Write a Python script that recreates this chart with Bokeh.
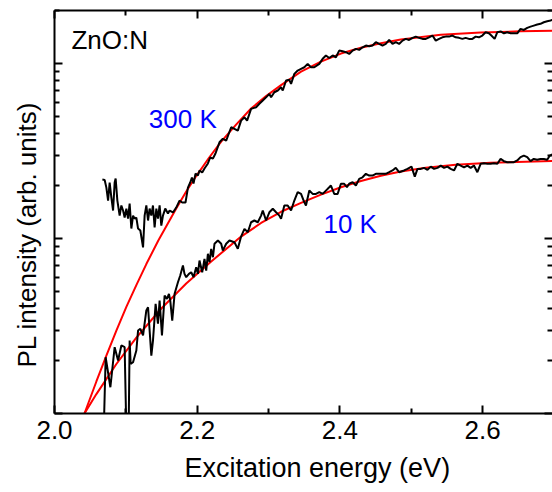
import numpy as np
from bokeh.plotting import figure
from bokeh.models import Range1d, LinearAxis, LogAxis, FixedTicker, Label, Title, CustomJSTickFormatter
from bokeh.embed import file_html
from bokeh.resources import INLINE

# ---- data ----
energy_300k = [2.0671, 2.0703, 2.0727, 2.0751, 2.0773, 2.0797, 2.0821, 2.0843, 2.0857, 2.0881,
               2.0913, 2.0937, 2.0961, 2.0983, 2.1007, 2.1031, 2.1053, 2.1077, 2.1101, 2.1123,
               2.1147, 2.1171, 2.1203, 2.1241, 2.1263, 2.1287, 2.1311, 2.1333, 2.1357, 2.1380,
               2.1403, 2.1427, 2.1450, 2.1473, 2.1497, 2.1520, 2.1552, 2.1590, 2.1613, 2.1660,
               2.1706, 2.1752, 2.1790, 2.1836, 2.1870, 2.1902, 2.1926, 2.1948, 2.1976, 2.2010,
               2.2032, 2.2070, 2.2102, 2.2150, 2.2182, 2.2220, 2.2256, 2.2312, 2.2359, 2.2406,
               2.2476, 2.2522, 2.2569, 2.2615, 2.2662, 2.2699, 2.2755, 2.2825, 2.2871, 2.2919,
               2.2965, 2.3011, 2.3035, 2.3081, 2.3129, 2.3175, 2.3199, 2.3245, 2.3291, 2.3315,
               2.3361, 2.3408, 2.3455, 2.3501, 2.3548, 2.3594, 2.3641, 2.3711, 2.3758, 2.3804,
               2.3850, 2.3898, 2.3944, 2.3990, 2.4038, 2.4084, 2.4130, 2.4178, 2.4224, 2.4270,
               2.4317, 2.4364, 2.4410, 2.4457, 2.4503, 2.4550, 2.4597, 2.4643, 2.4690, 2.4737,
               2.4783, 2.4829, 2.4877, 2.4923, 2.4969, 2.5017, 2.5063, 2.5109, 2.5157, 2.5203,
               2.5249, 2.5297, 2.5343, 2.5389, 2.5436, 2.5483, 2.5529, 2.5576, 2.5622, 2.5669,
               2.5716, 2.5762, 2.5808, 2.5856, 2.5902, 2.5948, 2.5996, 2.6042, 2.6088, 2.6122,
               2.6168, 2.6206, 2.6252, 2.6298, 2.6345, 2.6392, 2.6438, 2.6485, 2.6531, 2.6578,
               2.6625, 2.6671, 2.6717, 2.6765, 2.6811, 2.6857, 2.6905, 2.6951, 2.6979]
log10_pl_300k = [1.337, 1.335, 1.291, 1.217, 1.320, 1.234, 1.160, 1.320, 1.343, 1.217,
                 1.131, 1.189, 1.160, 1.120, 1.171, 1.114, 1.200, 1.057, 1.131, 1.114,
                 1.120, 1.057, 1.046, 0.949, 1.131, 1.189, 1.103, 1.171, 1.131, 1.189,
                 1.063, 1.171, 1.114, 1.189, 1.074, 1.131, 1.171, 1.143, 1.160, 1.149,
                 1.177, 1.217, 1.206, 1.206, 1.291, 1.320, 1.349, 1.314, 1.371, 1.360,
                 1.389, 1.377, 1.400, 1.429, 1.463, 1.457, 1.486, 1.550, 1.570, 1.560,
                 1.636, 1.627, 1.617, 1.674, 1.693, 1.674, 1.741, 1.750, 1.770, 1.789,
                 1.807, 1.827, 1.807, 1.836, 1.846, 1.865, 1.846, 1.903, 1.907, 1.884,
                 1.941, 1.960, 1.970, 1.979, 1.998, 1.979, 1.979, 1.998, 2.027, 2.046,
                 2.032, 2.046, 2.036, 2.074, 2.070, 2.065, 2.055, 2.074, 2.084, 2.078,
                 2.093, 2.103, 2.099, 2.103, 2.122, 2.112, 2.103, 2.112, 2.135, 2.112,
                 2.122, 2.112, 2.131, 2.141, 2.135, 2.147, 2.154, 2.147, 2.141, 2.141,
                 2.150, 2.160, 2.131, 2.141, 2.150, 2.154, 2.154, 2.160, 2.150, 2.147,
                 2.141, 2.147, 2.141, 2.141, 2.154, 2.150, 2.160, 2.179, 2.173, 2.160,
                 2.141, 2.179, 2.184, 2.173, 2.179, 2.173, 2.173, 2.173, 2.198, 2.192,
                 2.204, 2.211, 2.217, 2.223, 2.227, 2.236, 2.242, 2.246, 2.250]

energy_10k = [2.0690, 2.0717, 2.0783, 2.0843, 2.0891, 2.0937, 2.0983, 2.1007, 2.1039, 2.1053,
              2.1067, 2.1101, 2.1147, 2.1171, 2.1203, 2.1241, 2.1287, 2.1311, 2.1357, 2.1380,
              2.1417, 2.1450, 2.1473, 2.1506, 2.1543, 2.1576, 2.1604, 2.1622, 2.1650, 2.1683,
              2.1730, 2.1762, 2.1800, 2.1822, 2.1846, 2.1884, 2.1916, 2.1948, 2.1986, 2.2010,
              2.2032, 2.2070, 2.2102, 2.2126, 2.2150, 2.2172, 2.2196, 2.2220, 2.2242, 2.2290,
              2.2336, 2.2359, 2.2406, 2.2452, 2.2522, 2.2569, 2.2615, 2.2662, 2.2709, 2.2755,
              2.2801, 2.2849, 2.2895, 2.2919, 2.2965, 2.3011, 2.3059, 2.3105, 2.3151, 2.3175,
              2.3221, 2.3268, 2.3315, 2.3361, 2.3408, 2.3455, 2.3501, 2.3524, 2.3571, 2.3618,
              2.3664, 2.3711, 2.3758, 2.3804, 2.3850, 2.3874, 2.3920, 2.3968, 2.4014, 2.4060,
              2.4098, 2.4130, 2.4178, 2.4224, 2.4270, 2.4317, 2.4364, 2.4410, 2.4457, 2.4503,
              2.4550, 2.4597, 2.4643, 2.4690, 2.4737, 2.4783, 2.4829, 2.4899, 2.4947, 2.5003,
              2.5049, 2.5087, 2.5133, 2.5179, 2.5227, 2.5273, 2.5319, 2.5367, 2.5413, 2.5459,
              2.5506, 2.5552, 2.5599, 2.5646, 2.5692, 2.5739, 2.5786, 2.5832, 2.5878, 2.5926,
              2.5972, 2.6018, 2.6066, 2.6112, 2.6158, 2.6206, 2.6252, 2.6298, 2.6345, 2.6392,
              2.6438, 2.6485, 2.6531, 2.6578, 2.6625, 2.6671, 2.6717, 2.6765, 2.6811, 2.6857,
              2.6905, 2.6942, 2.6975]
log10_pl_10k = [-0.1, 0.322, 0.150, 0.379, 0.303, 0.389, 0.379, -0.1, -0.1, 0.417,
                0.284, 0.293, 0.360, 0.474, 0.484, 0.446, 0.589, 0.607, 0.331, 0.417,
                0.627, 0.513, 0.646, 0.446, 0.674, 0.655, 0.684, 0.646, 0.531, 0.684,
                0.750, 0.789, 0.846, 0.798, 0.779, 0.798, 0.807, 0.779, 0.836, 0.798,
                0.874, 0.807, 0.884, 0.817, 0.913, 0.865, 0.941, 0.893, 0.970, 0.989,
                0.970, 0.931, 0.970, 0.989, 0.979, 0.941, 1.011, 1.055, 1.036, 1.093,
                1.103, 1.093, 1.131, 1.160, 1.103, 1.150, 1.170, 1.150, 1.131, 1.113,
                1.189, 1.189, 1.160, 1.217, 1.265, 1.255, 1.207, 1.189, 1.274, 1.255,
                1.255, 1.265, 1.255, 1.274, 1.293, 1.303, 1.255, 1.255, 1.313, 1.313,
                1.293, 1.313, 1.322, 1.303, 1.341, 1.350, 1.370, 1.360, 1.360, 1.370,
                1.370, 1.370, 1.370, 1.379, 1.389, 1.404, 1.379, 1.389, 1.398, 1.411,
                1.354, 1.398, 1.398, 1.404, 1.393, 1.411, 1.398, 1.404, 1.417, 1.404,
                1.411, 1.398, 1.389, 1.427, 1.417, 1.407, 1.417, 1.404, 1.417, 1.379,
                1.427, 1.430, 1.427, 1.427, 1.430, 1.427, 1.455, 1.442, 1.436, 1.436,
                1.436, 1.446, 1.465, 1.474, 1.465, 1.442, 1.455, 1.450, 1.455, 1.455,
                1.450, 1.474, 1.480]

fit_energy_300k = [2.0376, 2.0420, 2.0587, 2.0727, 2.0867, 2.1007, 2.1147, 2.1287, 2.1455, 2.1706,
                   2.1846, 2.1986, 2.2168, 2.2336, 2.2545, 2.2755, 2.2965, 2.3175, 2.3455, 2.3734,
                   2.4014, 2.4294, 2.4573, 2.4853, 2.5413, 2.5972, 2.6531, 2.6979]
fit_log10_300k = [-0.05, 0.0, 0.183, 0.331, 0.474, 0.609, 0.734, 0.854, 0.989, 1.171,
                  1.269, 1.357, 1.463, 1.554, 1.651, 1.743, 1.814, 1.877, 1.954, 2.011,
                  2.057, 2.090, 2.116, 2.137, 2.164, 2.177, 2.184, 2.187]

fit_energy_10k = [2.0348, 2.0420, 2.0587, 2.0867, 2.1147, 2.1497, 2.1846, 2.2196, 2.2615, 2.2895,
                  2.3175, 2.3455, 2.3734, 2.4014, 2.4294, 2.4573, 2.4853, 2.5203, 2.5622, 2.6112,
                  2.6979]
fit_log10_10k = [-0.05, 0.0, 0.111, 0.283, 0.434, 0.600, 0.743, 0.869, 1.011, 1.089,
                 1.153, 1.204, 1.251, 1.293, 1.329, 1.359, 1.383, 1.404, 1.421, 1.433,
                 1.443]

x_major = [2.0, 2.2, 2.4, 2.6]
x_minor = [2.1, 2.3, 2.5, 2.7]
x_tick_labels = {2.0: "2.0", 2.2: "2.2", 2.4: "2.4", 2.6: "2.6"}
y_major = [1, 10, 100]
y_minor = [2, 3, 4, 5, 6, 7, 8, 9, 20, 30, 40, 50, 60, 70, 80, 90, 200]

FONT = "Liberation Sans"

p = figure(width=552, height=492, x_range=Range1d(2.0, 2.6979), y_range=Range1d(1, 201),
           y_axis_type="log", output_backend="svg", toolbar_location=None,
           min_border_left=53, min_border_right=0, min_border_top=10, min_border_bottom=79)
p.outline_line_color = None
p.xgrid.visible = False
p.ygrid.visible = False
p.background_fill_color = "white"
p.border_fill_color = "white"

# fits (red) then data (black)
p.line(fit_energy_300k, 10 ** np.array(fit_log10_300k), line_color="#ff0000", line_width=2)
p.line(fit_energy_10k, 10 ** np.array(fit_log10_10k), line_color="#ff0000", line_width=2)
p.line(energy_300k, 10 ** np.array(log10_pl_300k), line_color="black", line_width=2)
p.line(energy_10k, 10 ** np.array(log10_pl_10k), line_color="black", line_width=2)

blank = CustomJSTickFormatter(code="return ''")

def style(ax, labels):
    ax.axis_line_width = 2
    ax.axis_line_color = "black"
    ax.major_tick_in = 8
    ax.major_tick_out = 0
    ax.minor_tick_in = 5
    ax.minor_tick_out = 0
    ax.major_tick_line_width = 2
    ax.minor_tick_line_width = 2
    ax.major_tick_line_color = "black"
    ax.minor_tick_line_color = "black"
    if labels:
        ax.major_label_text_font = FONT
        ax.major_label_text_font_size = "26px"
        ax.major_label_text_color = "black"
        ax.major_label_standoff = 7
    else:
        ax.formatter = blank
        ax.major_label_standoff = 0

xb = p.xaxis[0]
xb.ticker = FixedTicker(ticks=x_major, minor_ticks=x_minor)
xb.major_label_overrides = x_tick_labels
style(xb, True)

yl = p.yaxis[0]
yl.ticker = FixedTicker(ticks=y_major, minor_ticks=y_minor)
style(yl, False)

xt = LinearAxis(ticker=FixedTicker(ticks=x_major, minor_ticks=x_minor))
style(xt, False)
p.add_layout(xt, "above")

yr = LogAxis(ticker=FixedTicker(ticks=y_major, minor_ticks=y_minor))
style(yr, False)
yr.axis_line_color = None
p.add_layout(yr, "right")

# axis titles
p.add_layout(Title(text="Excitation energy (eV)", align="left", offset=130, standoff=19,
                   vertical_align="bottom", text_font=FONT, text_font_size="27px",
                   text_font_style="normal", text_color="black"), "below")
p.add_layout(Title(text="PL intensity (arb. units)", align="left", offset=46, standoff=22,
                   vertical_align="top", text_font=FONT, text_font_size="26px",
                   text_font_style="normal", text_color="black"), "left")

# annotations
p.add_layout(Label(x=2.0238, y=135.5, text="ZnO:N", text_font=FONT, text_font_size="26px",
                   text_color="black", text_align="left", text_baseline="alphabetic"))
p.add_layout(Label(x=2.1322, y=47.9, text="300 K", text_font=FONT, text_font_size="26px",
                   text_color="#0000ff", text_align="left", text_baseline="alphabetic"))
p.add_layout(Label(x=2.3769, y=12.18, text="10 K", text_font=FONT, text_font_size="26px",
                   text_color="#0000ff", text_align="left", text_baseline="alphabetic"))

open("out.html", "w").write(file_html(p, INLINE))
